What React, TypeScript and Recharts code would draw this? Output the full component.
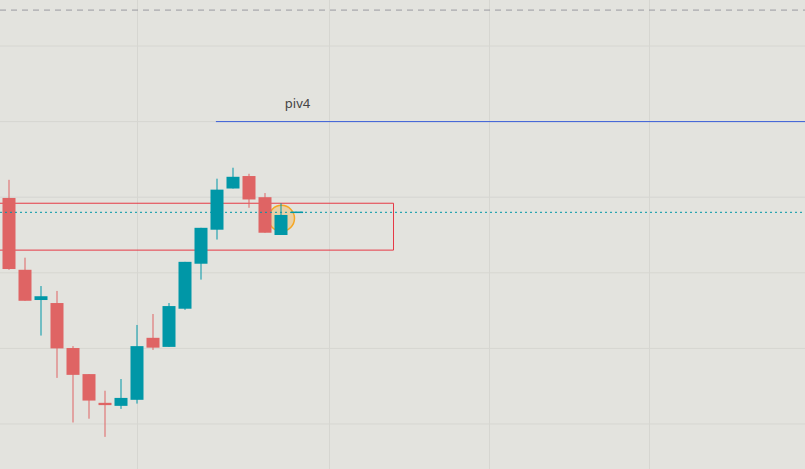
import React from 'react';
import {
  ComposedChart,
  Bar,
  XAxis,
  YAxis,
  CartesianGrid,
  ReferenceLine,
  ReferenceArea,
  ReferenceDot,
} from 'recharts';

// OHLC, one candle per slot
const opens = [129.9, 120.4, 116.4, 116.0, 110.05, 106.6, 102.8, 102.4, 103.2, 111.4, 110.2, 115.25, 121.2, 125.7, 131.15, 132.8, 130.0, 125.0];
const highs = [132.3, 122.0, 118.25, 117.6, 110.3, 106.6, 104.4, 105.95, 113.1, 114.55, 116.0, 121.45, 125.95, 132.45, 133.9, 133.1, 130.55, 129.2];
const lows = [120.4, 116.3, 111.7, 106.1, 100.2, 100.7, 98.3, 102.0, 102.7, 109.8, 110.2, 115.1, 119.1, 124.4, 131.15, 128.6, 125.3, 125.0];
const closes = [120.5, 116.3, 116.9, 110.0, 106.5, 103.1, 102.5, 103.45, 110.3, 110.1, 115.6, 121.45, 125.95, 131.0, 132.7, 129.7, 125.3, 127.65];

const yTicks = [100, 110, 120, 130, 140, 150];
const xTicks = [8, 20, 30, 40];

// zone, levels and marker
const zoneTop = 129.2;
const zoneBottom = 123.0;
const zoneEnd = 24;
const lastPrice = 128.0;
const pivLevel = 140;
const pivStart = 12.9;
const pivLabelAt = 18;
const topLevel = 154.75;
const markerAt = { x: 17, y: 127.2 };

const data = opens.map((o, i) => ({
  i,
  open: o,
  high: highs[i],
  low: lows[i],
  close: closes[i],
}));

const UP = '#0097a7';
const DOWN = '#df6464';

const Candle = (props: any) => {
  const { x, y, width, height, payload } = props;
  if (!payload) return null;
  const top = Math.min(y, y + height);
  const h = Math.abs(height);
  const { open, close, high, low } = payload;
  const px = (v: number) => top + ((high - v) / (high - low)) * h;
  const color = close >= open ? UP : DOWN;
  const bTop = px(Math.max(open, close));
  const bBot = px(Math.min(open, close));
  const cx = x + width / 2;
  return (
    <g>
      <rect x={cx - 0.5} y={top} width={1} height={h} fill={color} />
      <rect x={x} y={bTop} width={width} height={Math.max(bBot - bTop, 2)} fill={color} />
    </g>
  );
};

export default function App() {
  return (
    <div style={{ position: 'absolute', left: 0, top: 0, width: 805, height: 469, background: '#e3e3de', overflow: 'hidden' }}>
      <ComposedChart width={805} height={469} data={data} margin={{ top: 0, right: 0, bottom: 0, left: 0 }}>
        <CartesianGrid stroke="#d6d6d1" horizontalValues={yTicks} verticalValues={xTicks} />
        <XAxis dataKey="i" type="number" domain={[-0.59375, 49.71875]} allowDataOverflow hide />
        <YAxis type="number" domain={[94.0476, 156.0847]} allowDataOverflow hide />
        <ReferenceLine y={topLevel} stroke="#9a9aa0" strokeDasharray="6 5" />
        <ReferenceArea
          x1={-2}
          x2={zoneEnd}
          y1={zoneBottom}
          y2={zoneTop}
          fill="none"
          stroke="#e63946"
          strokeWidth={1}
          ifOverflow="hidden"
        />
        <ReferenceLine y={lastPrice} stroke={UP} strokeDasharray="2 3" />
        <ReferenceLine
          segment={[{ x: pivStart, y: pivLevel }, { x: 60, y: pivLevel }]}
          stroke="#3a5ed8"
          ifOverflow="hidden"
        />
        <ReferenceDot
          x={pivLabelAt}
          y={pivLevel}
          r={0}
          fill="none"
          stroke="none"
          label={{ value: 'piv4', position: 'top', offset: 14, fill: '#444', fontSize: 13, fontFamily: 'Noto Sans' }}
        />
        <ReferenceDot
          x={markerAt.x}
          y={markerAt.y}
          r={13}
          fill="rgba(245,166,35,0.3)"
          stroke="#f5a623"
          strokeWidth={1.5}
          zIndex={150}
        />
        <Bar dataKey={(d: any) => [d.low, d.high]} barSize={13} shape={<Candle />} isAnimationActive={false} zIndex={300} />
        <ReferenceLine
          segment={[{ x: 17.6, y: lastPrice }, { x: 18.35, y: lastPrice }]}
          stroke={UP}
          strokeWidth={1.5}
          zIndex={500}
        />
      </ComposedChart>
    </div>
  );
}
